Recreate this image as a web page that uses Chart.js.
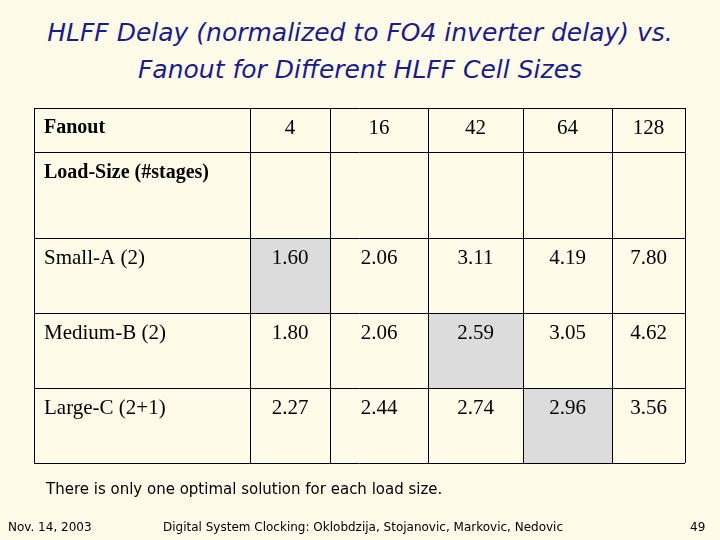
<!DOCTYPE html>
<html>
<head>
<meta charset="utf-8">
<script src="https://cdn.jsdelivr.net/npm/chart.js@4"></script>
<style>
  html, body { margin: 0; padding: 0; }
  body { width: 720px; height: 540px; background: #fffbe9; position: relative; overflow: hidden; }
  #title { position: absolute; top: 14px; left: 0; width: 720px; text-align: center;
    font-family: "DejaVu Sans"; font-style: italic; font-size: 25px; line-height: 37px; color: #1c1c8a; }
  #note { position: absolute; top: 480px; left: 46px; font-family: "DejaVu Sans"; font-size: 15px; color: #000; }
  .foot { position: absolute; top: 520px; font-family: "DejaVu Sans"; font-size: 12px; color: #000; }
  canvas { position: absolute; top: 0; left: 0; }
</style>
</head>
<body>
<div id="title">HLFF Delay (normalized to FO4 inverter delay) vs.<br>Fanout for Different HLFF Cell Sizes</div>
<canvas id="c" width="720" height="540"></canvas>
<div id="note">There is only one optimal solution for each load size.</div>
<div class="foot" style="left:8px">Nov. 14, 2003</div>
<div class="foot" style="left:163px">Digital System Clocking: Oklobdzija, Stojanovic, Markovic, Nedovic</div>
<div class="foot" style="left:690px">49</div>
<script>
// data
const fanouts = ['4', '16', '42', '64', '128']
const loadSizes = ['Small-A (2)', 'Medium-B (2)', 'Large-C (2+1)']
const smallA = ['1.60', '2.06', '3.11', '4.19', '7.80']
const mediumB = ['1.80', '2.06', '2.59', '3.05', '4.62']
const largeC = ['2.27', '2.44', '2.74', '2.96', '3.56']
const optimalCol = [0, 2, 3]   // shaded (best) cell per row

// table geometry in table units
const colEdges = [0, 216, 296, 394, 489, 578, 651]
const rowEdges = [0, 44, 130, 205, 280, 355]

const rows = [smallA, mediumB, largeC]

const tablePlugin = {
  id: 'table',
  afterDraw(chart) {
    const {ctx, scales: {x, y}} = chart
    const X = v => x.getPixelForValue(v), Y = v => y.getPixelForValue(v)
    ctx.save()
    // shaded cells
    ctx.fillStyle = '#dcdcdc'
    optimalCol.forEach((c, r) => {
      ctx.fillRect(X(colEdges[c + 1]), Y(rowEdges[r + 2]),
        X(colEdges[c + 2]) - X(colEdges[c + 1]), Y(rowEdges[r + 3]) - Y(rowEdges[r + 2]))
    })
    // grid
    ctx.strokeStyle = '#000'
    ctx.lineWidth = 1
    colEdges.forEach(v => { ctx.beginPath(); ctx.moveTo(Math.round(X(v)) + .5, Y(0)); ctx.lineTo(Math.round(X(v)) + .5, Y(355)); ctx.stroke() })
    rowEdges.forEach(v => {
      ctx.beginPath(); ctx.moveTo(X(0), Math.round(Y(v)) + .5); ctx.lineTo(X(651), Math.round(Y(v)) + .5); ctx.stroke()
    })
    // text
    ctx.fillStyle = '#000'
    ctx.textBaseline = 'middle'
    ctx.font = 'bold 20px "Liberation Serif"'
    ctx.textAlign = 'left'
    ctx.fillText('Fanout', X(10), Y(20))
    ctx.fillText('Load-Size (#stages)', X(10), Y(65))
    ctx.font = '21px "Liberation Serif"'
    fanouts.forEach((f, i) => {
      ctx.textAlign = 'center'
      ctx.fillText(f, (X(colEdges[i + 1]) + X(colEdges[i + 2])) / 2, Y(20))
    })
    rows.forEach((vals, r) => {
      const cy = Y(rowEdges[r + 2]) + 20
      ctx.textAlign = 'left'
      ctx.fillText(loadSizes[r], X(10), cy)
      ctx.textAlign = 'center'
      vals.forEach((v, i) => ctx.fillText(v, (X(colEdges[i + 1]) + X(colEdges[i + 2])) / 2, cy))
    })
    ctx.restore()
  }
}

new Chart(document.getElementById('c'), {
  type: 'scatter',
  data: { datasets: [{ data: [], pointRadius: 0 }] },
  options: {
    responsive: false,
    animation: false,
    layout: { padding: { left: 34, right: 35, top: 108, bottom: 77 } },
    plugins: { legend: { display: false }, tooltip: { enabled: false } },
    scales: {
      x: { type: 'linear', min: 0, max: 651, display: false },
      y: { type: 'linear', min: 0, max: 355, reverse: true, display: false }
    }
  },
  plugins: [tablePlugin]
})
</script>
</body>
</html>
